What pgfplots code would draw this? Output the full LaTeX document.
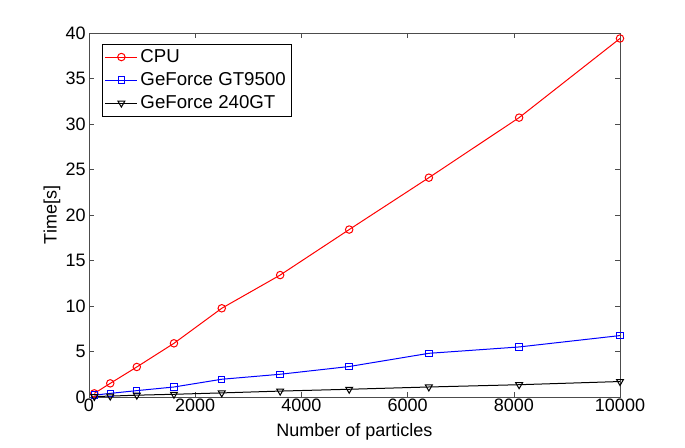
\documentclass[border=0pt]{standalone}
\usepackage{fontspec}
\setmainfont{Liberation Sans}
\usepackage{pgfplots}
\pgfplotsset{compat=1.18}
\begin{document}
\begin{tikzpicture}
\useasboundingbox (0pt,0pt) rectangle (513.75pt,335.25pt);
\fill[white] (0pt,0pt) rectangle (513.75pt,335.25pt);
\begin{axis}[
  at={(66.75pt,37.5pt)}, anchor=south west,
  scale only axis, width=398.25pt, height=273pt,
  xmin=0, xmax=10000, ymin=0, ymax=40,
  xtick={0,2000,4000,6000,8000,10000},
  ytick={0,5,10,15,20,25,30,35,40},
  scaled x ticks=false,
  /pgf/number format/1000 sep={},
  /pgf/number format/assume math mode=true,
  tick align=inside, tick pos=both,
  major tick length=4pt,
  axis line style={black!70},
  tick style={black!70},
  ticklabel style={font=\fontsize{13.5}{15}\selectfont},
  label style={font=\fontsize{13.5}{15}\selectfont},
  xlabel={Number of particles},
  ylabel={Time[s]},
  xlabel style={yshift=-2pt},
  ylabel style={yshift=-3pt},
  xticklabel style={yshift=2pt},
  yticklabel style={xshift=1pt},
  legend style={at={(0.0245,0.97)}, anchor=north west, draw=black, font=\fontsize{14}{16}\selectfont, inner sep=2pt, row sep=2pt, legend cell align=left},
  legend image code/.code={\draw[mark repeat=2,mark phase=2] plot coordinates {(0cm,0cm) (0.42cm,0cm) (0.84cm,0cm)};},
  every axis plot/.append style={line width=0.75pt},
  mark size=2.8pt,
]
\addplot[red, mark=o, mark options={solid}] coordinates {
(100,0.4) (400,1.5) (900,3.3) (1600,5.9) (2500,9.75) (3600,13.4) (4900,18.4) (6400,24.1) (8100,30.7) (10000,39.4)};
\addlegendentry{CPU}
\addplot[blue, mark=square, mark size=2.4pt] coordinates {
(100,0.2) (400,0.4) (900,0.7) (1600,1.1) (2500,1.95) (3600,2.5) (4900,3.35) (6400,4.8) (8100,5.5) (10000,6.75)};
\addlegendentry{GeForce GT9500}
\addplot[black, mark=triangle, mark options={rotate=180}, mark size=3pt] coordinates {
(100,0.05) (400,0.1) (900,0.2) (1600,0.3) (2500,0.45) (3600,0.65) (4900,0.85) (6400,1.1) (8100,1.35) (10000,1.7)};
\addlegendentry{GeForce 240GT}
\end{axis}
\end{tikzpicture}
\end{document}
